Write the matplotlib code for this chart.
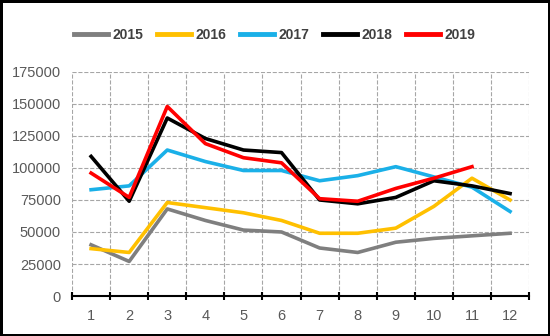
import matplotlib.pyplot as plt

months = list(range(1, 13))
y2015 = [40000, 27000, 68000, 59000, 51500, 50000, 37500, 34000, 42000, 45000, 47000, 49000]
y2016 = [37000, 34000, 73000, 69000, 65000, 59000, 49000, 49000, 53000, 70000, 92000, 75000]
y2017 = [83000, 86000, 114000, 105000, 98000, 98000, 90000, 94000, 101000, 93000, 85000, 66000]
y2018 = [109000, 74000, 139000, 123000, 114000, 112000, 75000, 72000, 77000, 90000, 86000, 80000]
y2019 = [96000, 77000, 148000, 119000, 108000, 104000, 76000, 74000, 84000, 92000, 101000]
yticks = [0, 25000, 50000, 75000, 100000, 125000, 150000, 175000]

plt.rcParams['font.family'] = ['Liberation Sans', 'DejaVu Sans']

fig = plt.figure(figsize=(5.5, 3.36), dpi=100)
fig.patch.set_edgecolor('black')
fig.patch.set_linewidth(2.5)
ax = fig.add_axes([0.131, 0.119, 0.831, 0.667])

series = [('2015', y2015, '#7f7f7f'), ('2016', y2016, '#ffc000'),
          ('2017', y2017, '#1ab0e8'), ('2018', y2018, '#000000'),
          ('2019', y2019, '#ff0000')]
for name, vals, col in series:
    ax.plot(months[:len(vals)], vals, color=col, lw=2.6, label=name)

ax.set_xlim(0.5, 12.5)
ax.set_ylim(0, 175000)
ax.set_yticks(yticks)
ax.set_xticks(months)
ax.set_xticks([m + 0.5 for m in range(0, 13)], minor=True)
ax.tick_params(axis='x', which='major', length=0, pad=9, labelsize=10.5, labelcolor='#595959')
ax.tick_params(axis='x', which='minor', length=6, width=1.5, direction='inout', color='black')
ax.tick_params(axis='y', length=0, labelsize=10.5, labelcolor='#595959', pad=8)
ax.grid(True, which='minor', axis='x', ls='--', color='#a6a6a6', lw=0.8)
ax.grid(True, which='major', axis='y', ls='--', color='#a6a6a6', lw=0.8)
for s in ['top', 'right', 'left']:
    ax.spines[s].set_visible(False)
ax.spines['bottom'].set_linewidth(1.5)

leg = fig.legend(loc='center', bbox_to_anchor=(0.499, 0.896), ncol=5, frameon=False,
                 handlelength=2.45, handletextpad=0.3, columnspacing=1.0,
                 prop={'size': 10, 'weight': 'bold'})
for t in leg.get_texts():
    t.set_color('#404040')
for h in leg.get_lines():
    h.set_linewidth(3.5)

fig.savefig('out.png', dpi=100, edgecolor=fig.get_edgecolor())
